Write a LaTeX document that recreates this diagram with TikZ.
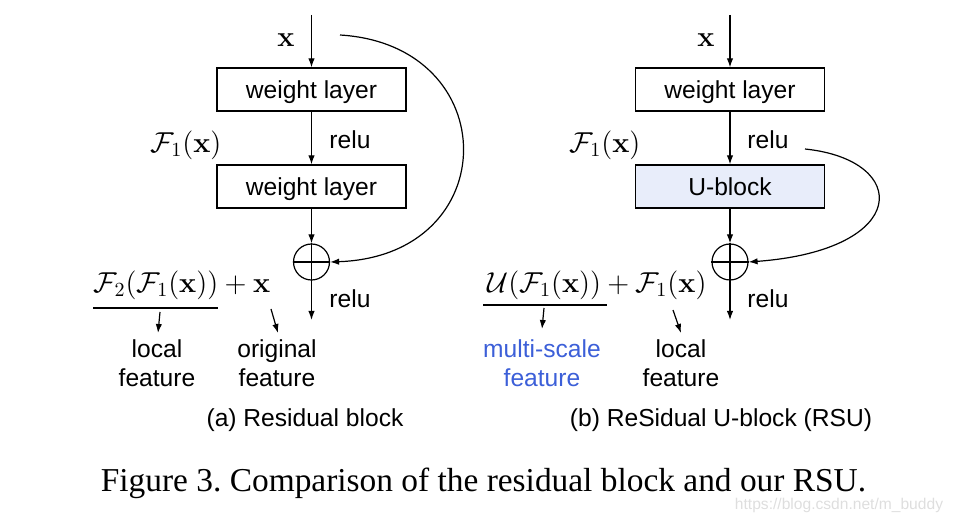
\documentclass[tikz,border=0pt]{standalone}
\usepackage[no-math]{fontspec}
\setmainfont{Liberation Sans}
\newfontfamily\capserif{Liberation Serif}
\usetikzlibrary{arrows.meta}
\definecolor{ublue}{RGB}{232,237,250}
\definecolor{msblue}{RGB}{60,95,216}
\definecolor{wmgray}{RGB}{222,222,222}

\begin{document}
\begin{tikzpicture}[x=0.5pt,y=-0.5pt,
  font=\fontsize{12.3}{14.5}\selectfont,
  line width=0.6pt,
  >={Latex[length=4.5pt,width=3.2pt]},
  layer/.style={draw,minimum width=94.5pt,minimum height=21.5pt,inner sep=0pt,text depth=0pt},
  plus/.style={draw,circle,minimum size=18pt,inner sep=0pt},
  lbl/.style={inner sep=0pt,align=center},
  inp/.style={lbl,font=\fontsize{15}{18}\selectfont},
  fone/.style={lbl,font=\fontsize{14.5}{17}\selectfont},
  eqn/.style={lbl,font=\fontsize{14.8}{18}\selectfont}]
\useasboundingbox (0,0) rectangle (954,518);

% (a) residual block
\coordinate (in1) at (311.5,15);
\node[layer] (w1) at (311.5,89.5) {weight layer};
\node[layer] (w2) at (311.5,186.5) {weight layer};
\node[plus] (s1) at (311.5,262) {};
\draw (s1.north) -- (s1.south) (s1.west) -- (s1.east);
\coordinate (out1) at (311.5,320);
\draw[->] (in1) -- (w1);
\draw[->] (w1) -- (w2);
\draw[->] (w2) -- (s1);
\draw[->] (s1) -- (out1);
\coordinate (skip1) at (340,35);
\draw[->] (skip1) .. controls (505,45) and (505,256) .. (s1.east);

\node[inp] (x1) at (286,40) {$\mathbf{x}$};
\node[lbl] (r1) at (350,140) {relu};
\node[fone] (f1) at (186,145) {$\mathcal{F}_1(\mathbf{x})$};
\node[lbl] (r2) at (350,299) {relu};
\node[eqn] (eq1) at (182,285) {$\mathcal{F}_2(\mathcal{F}_1(\mathbf{x}))+\mathbf{x}$};
\draw (93,308) -- (218,308);
\node[lbl] (loc1) at (157,363) {local\\feature};
\node[lbl] (org1) at (277,363) {original\\feature};
\coordinate (p1) at (160,312);
\coordinate (q1) at (158,333);
\coordinate (p2) at (271,309);
\coordinate (q2) at (278,333);
\draw[->] (p1) -- (q1);
\draw[->] (p2) -- (q2);
\node[lbl] (capa) at (305,420) {(a) Residual block};

% (b) RSU
\coordinate (in2) at (730,15);
\node[layer] (w3) at (730,89.5) {weight layer};
\node[layer,fill=ublue] (ub) at (730,186.5) {U-block};
\node[plus] (s2) at (730,262) {};
\draw (s2.north) -- (s2.south) (s2.west) -- (s2.east);
\coordinate (out2) at (730,320);
\draw[->] (in2) -- (w3);
\draw[->] (w3) -- (ub);
\draw[->] (ub) -- (s2);
\draw[->] (s2) -- (out2);
\coordinate (skip2) at (805,149);
\draw[->] (skip2) .. controls (911,160) and (911,250) .. (s2.east);

\node[inp] (x2) at (706,40) {$\mathbf{x}$};
\node[lbl] (r3) at (768,140) {relu};
\node[fone] (f2) at (605,145) {$\mathcal{F}_1(\mathbf{x})$};
\node[lbl] (r4) at (768,299) {relu};
\node[eqn,font=\fontsize{14.4}{18}\selectfont] (eq2) at (597,285) {$\mathcal{U}(\mathcal{F}_1(\mathbf{x}))+\mathcal{F}_1(\mathbf{x})$};
\draw (483,305) -- (607,305);
\node[lbl,text=msblue] (ms) at (542,363) {multi-scale\\feature};
\node[lbl] (loc2) at (681,363) {local\\feature};
\coordinate (p3) at (544,308);
\coordinate (q3) at (542,329);
\coordinate (p4) at (673,310);
\coordinate (q4) at (681,333);
\draw[->] (p3) -- (q3);
\draw[->] (p4) -- (q4);
\node[lbl] (capb) at (721,420) {(b) ReSidual U-block (RSU)};

% caption
\node[lbl,font=\capserif\frenchspacing\fontsize{16.7}{20}\selectfont] (fig) at (483.5,483)
  {Figure 3. Comparison of the residual block and our RSU.};
\node[lbl,text=wmgray,font=\fontsize{7.8}{9}\selectfont] (wm) at (839,505)
  {https://blog.csdn.net/m\_buddy};
\end{tikzpicture}
\end{document}
